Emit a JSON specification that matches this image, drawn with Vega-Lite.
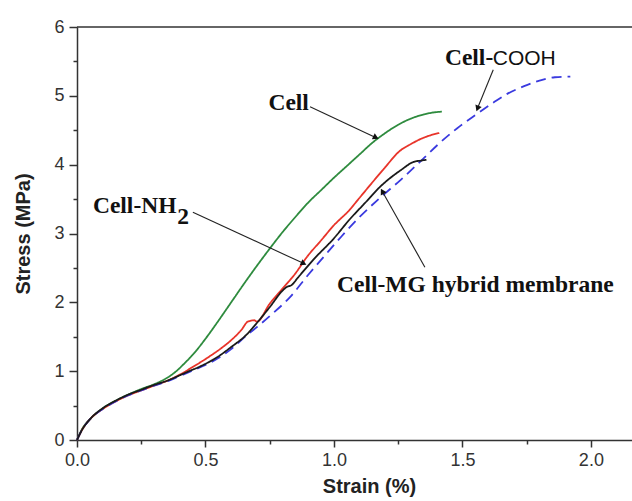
{
  "$schema": "https://vega.github.io/schema/vega-lite/v6.json",
  "autosize": {"type": "none"},
  "padding": {"left": 77, "top": 27, "right": 0, "bottom": 61},
  "width": 555,
  "height": 413,
  "background": "white",
  "config": {"view": {"stroke": null}},
  "datasets": {
    "curves": [
      {"s":"Cell","x":0,"y":0},{"s":"Cell","x":0.02,"y":0.16},{"s":"Cell","x":0.05,"y":0.3},{"s":"Cell","x":0.1,"y":0.46},{"s":"Cell","x":0.15,"y":0.57},{"s":"Cell","x":0.2,"y":0.66},{"s":"Cell","x":0.25,"y":0.74},{"s":"Cell","x":0.3,"y":0.81},{"s":"Cell","x":0.335,"y":0.87},{"s":"Cell","x":0.38,"y":0.98},{"s":"Cell","x":0.42,"y":1.12},{"s":"Cell","x":0.46,"y":1.28},{"s":"Cell","x":0.5,"y":1.47},{"s":"Cell","x":0.55,"y":1.73},{"s":"Cell","x":0.6,"y":2.0},{"s":"Cell","x":0.65,"y":2.27},{"s":"Cell","x":0.7,"y":2.53},{"s":"Cell","x":0.75,"y":2.78},{"s":"Cell","x":0.8,"y":3.02},{"s":"Cell","x":0.85,"y":3.24},{"s":"Cell","x":0.9,"y":3.45},{"s":"Cell","x":0.95,"y":3.63},{"s":"Cell","x":1.0,"y":3.81},{"s":"Cell","x":1.05,"y":3.98},{"s":"Cell","x":1.1,"y":4.15},{"s":"Cell","x":1.15,"y":4.32},{"s":"Cell","x":1.2,"y":4.46},{"s":"Cell","x":1.25,"y":4.58},{"s":"Cell","x":1.3,"y":4.67},{"s":"Cell","x":1.35,"y":4.73},{"s":"Cell","x":1.39,"y":4.76},{"s":"Cell","x":1.42,"y":4.77},
      {"s":"Cell-NH2","x":0,"y":0},{"s":"Cell-NH2","x":0.02,"y":0.15},{"s":"Cell-NH2","x":0.05,"y":0.3},{"s":"Cell-NH2","x":0.1,"y":0.45},{"s":"Cell-NH2","x":0.15,"y":0.56},{"s":"Cell-NH2","x":0.2,"y":0.65},{"s":"Cell-NH2","x":0.25,"y":0.72},{"s":"Cell-NH2","x":0.3,"y":0.79},{"s":"Cell-NH2","x":0.35,"y":0.86},{"s":"Cell-NH2","x":0.4,"y":0.95},{"s":"Cell-NH2","x":0.45,"y":1.06},{"s":"Cell-NH2","x":0.51,"y":1.2},{"s":"Cell-NH2","x":0.56,"y":1.33},{"s":"Cell-NH2","x":0.6,"y":1.45},{"s":"Cell-NH2","x":0.64,"y":1.6},{"s":"Cell-NH2","x":0.665,"y":1.72},{"s":"Cell-NH2","x":0.69,"y":1.74},{"s":"Cell-NH2","x":0.7,"y":1.72},{"s":"Cell-NH2","x":0.75,"y":1.98},{"s":"Cell-NH2","x":0.8,"y":2.2},{"s":"Cell-NH2","x":0.85,"y":2.42},{"s":"Cell-NH2","x":0.895,"y":2.66},{"s":"Cell-NH2","x":0.95,"y":2.9},{"s":"Cell-NH2","x":1.0,"y":3.12},{"s":"Cell-NH2","x":1.06,"y":3.34},{"s":"Cell-NH2","x":1.1,"y":3.52},{"s":"Cell-NH2","x":1.19,"y":3.92},{"s":"Cell-NH2","x":1.26,"y":4.21},{"s":"Cell-NH2","x":1.3,"y":4.3},{"s":"Cell-NH2","x":1.33,"y":4.36},{"s":"Cell-NH2","x":1.37,"y":4.42},{"s":"Cell-NH2","x":1.41,"y":4.46},
      {"s":"Cell-COOH","x":0,"y":0},{"s":"Cell-COOH","x":0.02,"y":0.15},{"s":"Cell-COOH","x":0.05,"y":0.3},{"s":"Cell-COOH","x":0.1,"y":0.45},{"s":"Cell-COOH","x":0.15,"y":0.56},{"s":"Cell-COOH","x":0.2,"y":0.65},{"s":"Cell-COOH","x":0.25,"y":0.72},{"s":"Cell-COOH","x":0.3,"y":0.79},{"s":"Cell-COOH","x":0.35,"y":0.85},{"s":"Cell-COOH","x":0.4,"y":0.93},{"s":"Cell-COOH","x":0.45,"y":1.01},{"s":"Cell-COOH","x":0.5,"y":1.09},{"s":"Cell-COOH","x":0.55,"y":1.19},{"s":"Cell-COOH","x":0.6,"y":1.32},{"s":"Cell-COOH","x":0.66,"y":1.52},{"s":"Cell-COOH","x":0.7,"y":1.64},{"s":"Cell-COOH","x":0.75,"y":1.8},{"s":"Cell-COOH","x":0.83,"y":2.08},{"s":"Cell-COOH","x":0.9,"y":2.4},{"s":"Cell-COOH","x":0.96,"y":2.66},{"s":"Cell-COOH","x":1.03,"y":2.96},{"s":"Cell-COOH","x":1.1,"y":3.24},{"s":"Cell-COOH","x":1.18,"y":3.52},{"s":"Cell-COOH","x":1.26,"y":3.78},{"s":"Cell-COOH","x":1.34,"y":4.06},{"s":"Cell-COOH","x":1.41,"y":4.31},{"s":"Cell-COOH","x":1.48,"y":4.53},{"s":"Cell-COOH","x":1.55,"y":4.72},{"s":"Cell-COOH","x":1.62,"y":4.9},{"s":"Cell-COOH","x":1.67,"y":5.02},{"s":"Cell-COOH","x":1.74,"y":5.14},{"s":"Cell-COOH","x":1.8,"y":5.22},{"s":"Cell-COOH","x":1.86,"y":5.27},{"s":"Cell-COOH","x":1.92,"y":5.28},
      {"s":"Cell-MG","x":0,"y":0},{"s":"Cell-MG","x":0.02,"y":0.15},{"s":"Cell-MG","x":0.05,"y":0.3},{"s":"Cell-MG","x":0.1,"y":0.46},{"s":"Cell-MG","x":0.15,"y":0.57},{"s":"Cell-MG","x":0.2,"y":0.66},{"s":"Cell-MG","x":0.25,"y":0.73},{"s":"Cell-MG","x":0.3,"y":0.8},{"s":"Cell-MG","x":0.35,"y":0.86},{"s":"Cell-MG","x":0.4,"y":0.94},{"s":"Cell-MG","x":0.43,"y":0.99},{"s":"Cell-MG","x":0.48,"y":1.07},{"s":"Cell-MG","x":0.54,"y":1.19},{"s":"Cell-MG","x":0.6,"y":1.35},{"s":"Cell-MG","x":0.665,"y":1.55},{"s":"Cell-MG","x":0.7,"y":1.7},{"s":"Cell-MG","x":0.75,"y":1.93},{"s":"Cell-MG","x":0.8,"y":2.17},{"s":"Cell-MG","x":0.815,"y":2.22},{"s":"Cell-MG","x":0.835,"y":2.25},{"s":"Cell-MG","x":0.86,"y":2.36},{"s":"Cell-MG","x":0.92,"y":2.62},{"s":"Cell-MG","x":1.0,"y":2.93},{"s":"Cell-MG","x":1.06,"y":3.2},{"s":"Cell-MG","x":1.12,"y":3.44},{"s":"Cell-MG","x":1.18,"y":3.68},{"s":"Cell-MG","x":1.26,"y":3.92},{"s":"Cell-MG","x":1.31,"y":4.04},{"s":"Cell-MG","x":1.34,"y":4.06},{"s":"Cell-MG","x":1.36,"y":4.07}
    ],
    "arrows": [
      {"a":"Cell","x":0.907,"y":4.84,"x2":1.16,"y2":4.4},
      {"a":"NH2","x":0.451,"y":3.31,"x2":0.879,"y2":2.57},
      {"a":"COOH","x":1.62,"y":5.38,"x2":1.56,"y2":4.83},
      {"a":"MG","x":1.354,"y":2.51,"x2":1.19,"y2":3.6}
    ]
  },
  "resolve": {"axis": {"x": "independent", "y": "independent"}},
  "layer": [
    {
      "layer": [
        {
          "data": {"values": [{"v": 6}]},
          "mark": {"type": "rule", "color": "#333", "strokeWidth": 1.5},
          "encoding": {"y": {"field": "v", "type": "quantitative"}}
        },
        {
          "data": {"name": "curves"},
          "mark": {"type": "line", "strokeWidth": 1.8, "interpolate": "monotone"},
          "encoding": {
            "x": {"field": "x", "type": "quantitative",
              "scale": {"domain": [0, 2.16], "nice": false, "zero": false},
              "axis": {"values": [0,0.5,1,1.5,2], "format": ".1f",
                "labelFlush": false,
                "title": "Strain (%)", "titleFont": "Liberation Sans", "titleFontSize": 20, "titleFontWeight": "bold", "titleColor": "#222",
                "titleX": 292, "titleAnchor": "middle", "titlePadding": 7,
                "labelFont": "Liberation Sans", "labelFontSize": 18, "labelColor": "#333", "labelPadding": 4,
                "tickSize": 7, "tickColor": "#333", "tickWidth": 1.5, "domainColor": "#333", "domainWidth": 1.5, "grid": false}},
            "y": {"field": "y", "type": "quantitative",
              "scale": {"domain": [0, 6], "nice": false},
              "axis": {"values": [0,1,2,3,4,5,6], "format": "d",
                "labelFlush": false,
                "title": "Stress (MPa)", "titleFont": "Liberation Sans", "titleFontSize": 20, "titleFontWeight": "bold", "titleColor": "#222",
                "titlePadding": 20,
                "labelFont": "Liberation Sans", "labelFontSize": 18, "labelColor": "#333", "labelPadding": 5,
                "tickSize": 8, "tickColor": "#333", "tickWidth": 1.5, "domainColor": "#333", "domainWidth": 1.5, "grid": false}},
            "color": {"field": "s", "type": "nominal", "legend": null,
              "scale": {"domain": ["Cell", "Cell-NH2", "Cell-COOH", "Cell-MG"], "range": ["#2e8b3e", "#e8342a", "#3a3adf", "#1a1a1a"]}},
            "strokeDash": {"field": "s", "type": "nominal", "legend": null,
              "scale": {"domain": ["Cell", "Cell-NH2", "Cell-COOH", "Cell-MG"], "range": [[1,0],[1,0],[10,6],[1,0]]}},
            "order": {"field": "x", "type": "quantitative"}
          }
        },
        {
          "data": {"name": "arrows"},
          "mark": {"type": "rule", "color": "#222", "strokeWidth": 1.1},
          "encoding": {"x": {"field": "x", "type": "quantitative"}, "y": {"field": "y", "type": "quantitative"}, "x2": {"field": "x2"}, "y2": {"field": "y2"}}
        },
        {
          "data": {"name": "arrows"},
          "transform": [{"filter": "datum.a === 'Cell' || datum.a === 'NH2'"}],
          "mark": {"type": "point", "shape": "triangle", "filled": true, "color": "#111", "size": 45, "angle": 115, "opacity": 1},
          "encoding": {"x": {"field": "x2", "type": "quantitative"}, "y": {"field": "y2", "type": "quantitative"}}
        },
        {
          "data": {"name": "arrows"},
          "transform": [{"filter": "datum.a === 'COOH'"}],
          "mark": {"type": "point", "shape": "triangle", "filled": true, "color": "#111", "size": 45, "angle": 201, "opacity": 1},
          "encoding": {"x": {"field": "x2", "type": "quantitative"}, "y": {"field": "y2", "type": "quantitative"}}
        },
        {
          "data": {"name": "arrows"},
          "transform": [{"filter": "datum.a === 'MG'"}],
          "mark": {"type": "point", "shape": "triangle", "filled": true, "color": "#111", "size": 45, "angle": 331, "opacity": 1},
          "encoding": {"x": {"field": "x2", "type": "quantitative"}, "y": {"field": "y2", "type": "quantitative"}}
        },
        {
          "data": {"values": [
            {"t": "Cell", "x": 0.745, "y": 4.8},
            {"t": "Cell-NH", "x": 0.062, "y": 3.3},
            {"t": "Cell-", "x": 1.432, "y": 5.45},
            {"t": "Cell-MG hybrid membrane", "x": 1.012, "y": 2.15}
          ]},
          "mark": {"type": "text", "font": "Liberation Serif", "fontWeight": "bold", "fontSize": 23.5, "align": "left", "baseline": "alphabetic", "color": "#111"},
          "encoding": {"x": {"field": "x", "type": "quantitative"}, "y": {"field": "y", "type": "quantitative"}, "text": {"field": "t"}}
        },
        {
          "data": {"values": [{"t": "2", "x": 0.39, "y": 3.14}]},
          "mark": {"type": "text", "font": "Liberation Serif", "fontWeight": "bold", "fontSize": 23.5, "align": "left", "baseline": "alphabetic", "color": "#111"},
          "encoding": {"x": {"field": "x", "type": "quantitative"}, "y": {"field": "y", "type": "quantitative"}, "text": {"field": "t"}}
        },
        {
          "data": {"values": [{"t": "COOH", "x": 1.618, "y": 5.45}]},
          "mark": {"type": "text", "font": "Liberation Sans", "fontWeight": "normal", "fontSize": 21, "align": "left", "baseline": "alphabetic", "color": "#111"},
          "encoding": {"x": {"field": "x", "type": "quantitative"}, "y": {"field": "y", "type": "quantitative"}, "text": {"field": "t"}}
        }
      ]
    },
    {
      "data": {"name": "curves"},
      "mark": {"type": "point", "opacity": 0},
      "encoding": {
        "x": {"field": "x", "type": "quantitative",
          "axis": {"orient": "bottom", "values": [0.25,0.75,1.25,1.75], "labels": false, "domain": false, "title": null, "grid": false, "tickSize": 4, "tickColor": "#333", "tickWidth": 1.5}},
        "y": {"field": "y", "type": "quantitative",
          "axis": {"orient": "left", "values": [0.5,1.5,2.5,3.5,4.5,5.5], "labels": false, "domain": false, "title": null, "grid": false, "tickSize": 4, "tickColor": "#333", "tickWidth": 1.5}}
      }
    }
  ]
}
